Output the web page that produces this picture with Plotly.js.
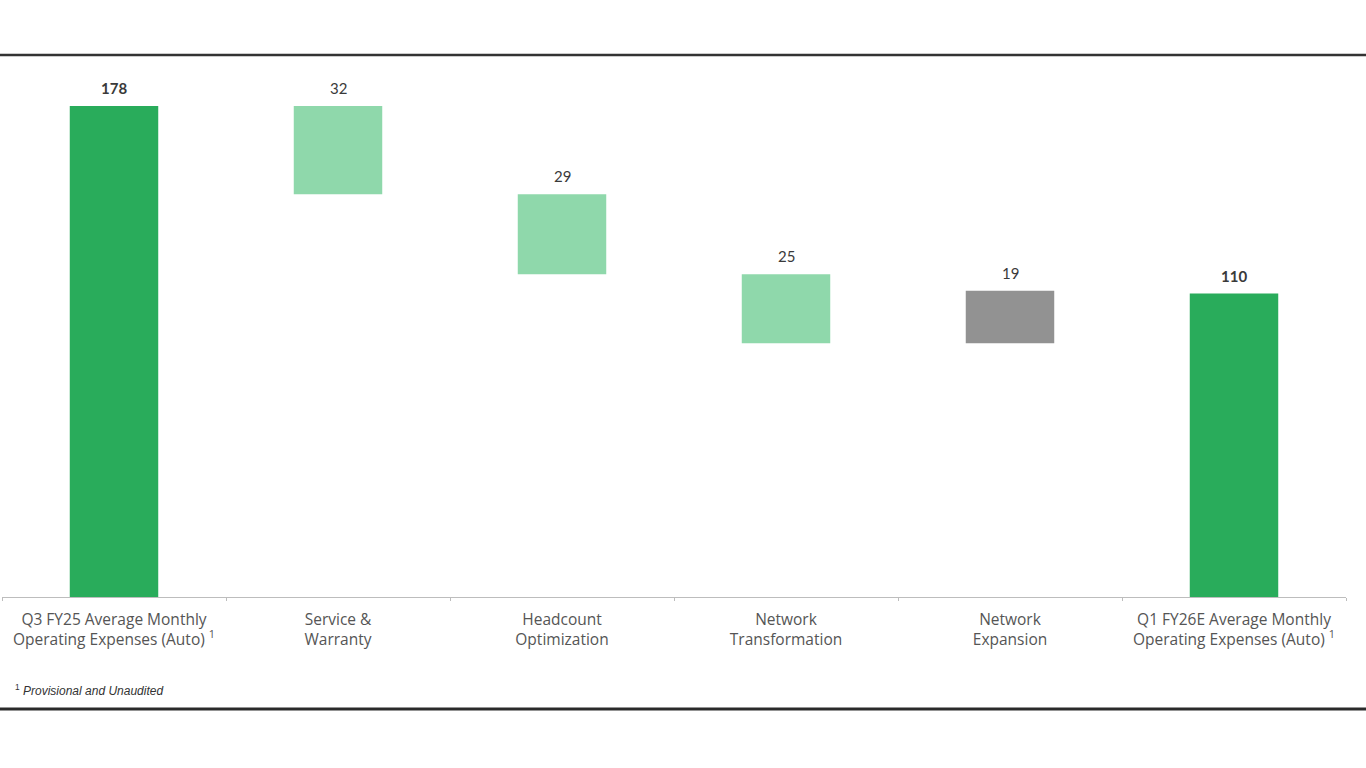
<!DOCTYPE html>
<html>
<head>
<meta charset="utf-8">
<script src="https://cdn.plot.ly/plotly-3.0.1.min.js"></script>
<style>html,body{margin:0;padding:0;background:#fff;}#chart{width:1366px;height:768px;}</style>
</head>
<body>
<div id="chart"></div>
<script>
const categories = ["start","service","headcount","transformation","expansion","end"];
const tickLabels = [
  "Q3 FY25 Average Monthly<br>Operating Expenses (Auto) <sup>1</sup>",
  "Service &<br>Warranty",
  "Headcount<br>Optimization",
  "Network<br>Transformation",
  "Network<br>Expansion",
  "Q1 FY26E Average Monthly<br>Operating Expenses (Auto) <sup>1</sup>"
];
const measures = ["total","down","down","down","up","total"];
const values = [178, 32, 29, 25, 19, 110];
const valueLabels = ["<b>178</b>","32","29","25","19","<b>110</b>"];

const colorFor = {total:"#29AC5B", down:"#8FD8AB", up:"#929292"};

// compute bases from the running total
const bases = [], heights = [];
let running = 0;
measures.forEach((m, i) => {
  if (m === "total") { bases.push(0); heights.push(values[i]); running = values[i]; }
  else if (m === "down") { running -= values[i]; bases.push(running); heights.push(values[i]); }
  else { bases.push(running); heights.push(values[i]); running += values[i]; }
});

const trace = {
  type: "bar",
  x: categories,
  y: heights,
  base: bases,
  width: 0.395,
  marker: {color: measures.map(m => colorFor[m])},
  hoverinfo: "skip"
};

const valueAnnotations = categories.map((c, i) => ({
  x: c, y: bases[i] + heights[i], xref: "x", yref: "y",
  xanchor: "center", yanchor: "bottom", yshift: 7,
  showarrow: false, text: valueLabels[i],
  font: {family: "Lato, 'Open Sans', sans-serif", size: 15, color: "#3a3a3a"}
}));

const layout = {
  width: 1366, height: 768,
  margin: {l: 0, r: 0, t: 55, b: 171, pad: 0},
  paper_bgcolor: "#fff", plot_bgcolor: "#fff",
  showlegend: false,
  xaxis: {
    domain: [2/1366, 1346/1366],
    type: "category",
    tickvals: categories,
    ticktext: tickLabels,
    tickson: "boundaries",
    ticks: "outside", ticklen: 3, tickcolor: "#bdbdbd", tickwidth: 1,
    ticklabelstandoff: 8,
    showline: true, linecolor: "#bdbdbd", linewidth: 1,
    showgrid: false, zeroline: false,
    tickfont: {family: "'Open Sans', Lato, sans-serif", size: 15.5, color: "#555"},
    fixedrange: true
  },
  yaxis: {
    range: [0, 196.5],
    visible: false, showgrid: false, zeroline: false, fixedrange: true
  },
  shapes: [
    {type: "line", xref: "paper", yref: "paper", x0: 0, x1: 1, y0: 1, y1: 1,
     line: {color: "#333", width: 2.5}},
    {type: "line", xref: "paper", yref: "paper", x0: 0, x1: 1, y0: -0.2066, y1: -0.2066,
     line: {color: "#2a2a2a", width: 3}}
  ],
  annotations: valueAnnotations.concat([
    {xref: "paper", yref: "paper", x: 13/1366, y: -0.172, xanchor: "left", yanchor: "middle",
     showarrow: false, align: "left",
     text: "<sup>1</sup> <i>Provisional and Unaudited</i>",
     font: {family: "'Liberation Sans', Arial, sans-serif", size: 12, color: "#333"}}
  ])
};

Plotly.newPlot("chart", [trace], layout, {displayModeBar: false, staticPlot: true});
</script>
</body>
</html>
